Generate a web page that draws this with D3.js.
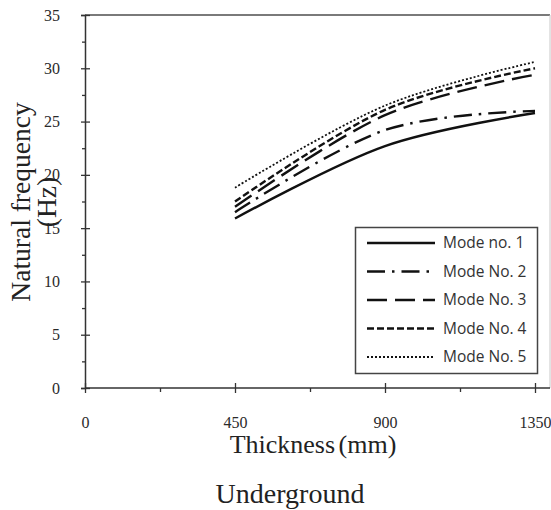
<!DOCTYPE html>
<html>
<head>
<meta charset="utf-8">
<script src="https://cdn.jsdelivr.net/npm/d3@7"></script>
<style>
  html, body { margin: 0; padding: 0; background: #fff; }
  svg { display: block; }
</style>
</head>
<body>
<svg id="chart" width="551" height="510"></svg>
<script>
// Thickness of the slab (mm) at which each mode was computed
const thickness = [450, 900, 1350];

// Natural frequencies (Hz) per mode
const mode1 = [15.9, 22.7, 25.8];
const mode2 = [16.5, 24.2, 26.0];
const mode3 = [17.0, 25.6, 29.4];
const mode4 = [17.5, 26.1, 30.0];
const mode5 = [18.8, 26.5, 30.6];

const seriesNames = ["Mode no. 1", "Mode No. 2", "Mode No. 3", "Mode No. 4", "Mode No. 5"];

const xTicks = [0, 450, 900, 1350];
const xMinorTicks = [225, 675, 1125];
const yTicks = [0, 5, 10, 15, 20, 25, 30, 35];
const yMinorTicks = [2.5, 7.5, 12.5, 17.5, 22.5, 27.5, 32.5];

const series = [mode1, mode2, mode3, mode4, mode5].map((vals, i) => ({
  name: seriesNames[i],
  points: vals.map((v, j) => ({ x: thickness[j], y: v }))
}));

// Line styles for each mode
const styles = [
  { dash: null,          width: 2.4 },
  { dash: "18,7,2.5,7",  width: 2.4 },
  { dash: "20,8",        width: 2.4 },
  { dash: "7,3",         width: 2.4 },
  { dash: "2,2",         width: 1.8 }
];

const svg = d3.select("#chart");

const plotLeft = 85, plotRight = 535, plotTop = 15, plotBottom = 388, frameRight = 550;

const x = d3.scaleLinear().domain([0, 1350]).range([plotLeft, plotRight]);
const y = d3.scaleLinear().domain([0, 35]).range([plotBottom, plotTop]);

// Frame: top and right edges of the plot area
svg.append("line")
  .attr("x1", plotLeft).attr("x2", frameRight)
  .attr("y1", plotTop).attr("y2", plotTop)
  .attr("stroke", "#7a7a7a").attr("stroke-width", 2);
svg.append("line")
  .attr("x1", frameRight).attr("x2", frameRight)
  .attr("y1", plotTop).attr("y2", plotBottom)
  .attr("stroke", "#c8c8c8").attr("stroke-width", 1);

const serif = "'Liberation Serif', 'Times New Roman', serif";

// Y axis
const yAxis = svg.append("g")
  .attr("transform", `translate(${plotLeft},0)`)
  .call(d3.axisLeft(y).tickValues(yTicks).tickSize(4).tickPadding(21).tickFormat(d3.format("d")));
yAxis.select(".domain").attr("stroke", "#333").attr("stroke-width", 1.5);
yAxis.selectAll(".tick line").attr("x2", -4).attr("x1", 5).attr("stroke", "#333").attr("stroke-width", 1.3);
yAxis.selectAll(".tick text")
  .attr("font-family", serif)
  .attr("font-size", 16).attr("fill", "#2a2a2a");
svg.append("g")
  .attr("transform", `translate(${plotLeft},0)`)
  .call(d3.axisLeft(y).tickValues(yMinorTicks).tickSize(3).tickFormat(""))
  .call(g => g.select(".domain").remove())
  .selectAll(".tick line").attr("stroke", "#333").attr("stroke-width", 1.3);

// X axis, extended to the right edge of the plot area
const xAxis = svg.append("g")
  .attr("transform", `translate(0,${plotBottom})`)
  .call(d3.axisBottom(x).tickValues(xTicks).tickSize(5).tickPadding(24).tickSizeOuter(0).tickFormat(d3.format("d")));
xAxis.select(".domain").remove();
xAxis.append("line")
  .attr("x1", plotLeft).attr("x2", frameRight)
  .attr("stroke", "#333").attr("stroke-width", 1.5);
xAxis.selectAll(".tick line").attr("y1", -5).attr("y2", 5).attr("stroke", "#333").attr("stroke-width", 1.3);
xAxis.selectAll(".tick text")
  .attr("font-family", serif)
  .attr("font-size", 16).attr("fill", "#2a2a2a");
svg.append("g")
  .attr("transform", `translate(0,${plotBottom})`)
  .call(d3.axisBottom(x).tickValues(xMinorTicks).tickSize(4).tickFormat(""))
  .call(g => g.select(".domain").remove())
  .selectAll(".tick line").attr("stroke", "#333").attr("stroke-width", 1.3);

// Data curves
const line = d3.line()
  .x(d => x(d.x))
  .y(d => y(d.y))
  .curve(d3.curveCardinal);

svg.append("g").selectAll("path")
  .data(series)
  .join("path")
  .attr("d", d => line(d.points))
  .attr("fill", "none")
  .attr("stroke", "#111")
  .attr("stroke-width", (d, i) => styles[i].width)
  .attr("stroke-dasharray", (d, i) => styles[i].dash);

// Legend
const legend = svg.append("g");
legend.append("rect")
  .attr("x", 355.5).attr("y", 227.5)
  .attr("width", 182).attr("height", 146)
  .attr("fill", "#fff").attr("stroke", "#444").attr("stroke-width", 1.5);

const entries = legend.selectAll("g.entry")
  .data(series)
  .join("g")
  .attr("class", "entry")
  .attr("transform", (d, i) => `translate(0,${243 + i * 28.5})`);
entries.append("line")
  .attr("x1", 367).attr("x2", 435)
  .attr("stroke", "#111")
  .attr("stroke-width", (d, i) => styles[i].width)
  .attr("stroke-dasharray", (d, i) => styles[i].dash);
entries.append("text")
  .attr("x", 443).attr("dy", "0.35em")
  .attr("font-family", "'Open Sans', sans-serif")
  .attr("font-size", 15.5)
  .attr("fill", "#333")
  .text(d => d.name);

// Axis titles
const yTitle = svg.append("text")
  .attr("transform", "translate(0,202) rotate(-90)")
  .attr("text-anchor", "middle")
  .attr("font-family", serif).attr("font-size", 27.5).attr("fill", "#222");
yTitle.append("tspan").attr("x", 0).attr("y", 30).text("Natural frequency");
yTitle.append("tspan").attr("x", 0).attr("y", 56).text("(Hz)");

svg.append("text")
  .attr("x", 313).attr("y", 453)
  .attr("text-anchor", "middle")
  .attr("font-family", serif).attr("font-size", 26).attr("fill", "#222")
  .attr("word-spacing", -3)
  .text("Thickness (mm)");

svg.append("text")
  .attr("x", 290).attr("y", 503)
  .attr("text-anchor", "middle")
  .attr("font-family", serif).attr("font-size", 28).attr("fill", "#222")
  .text("Underground");
</script>
</body>
</html>
